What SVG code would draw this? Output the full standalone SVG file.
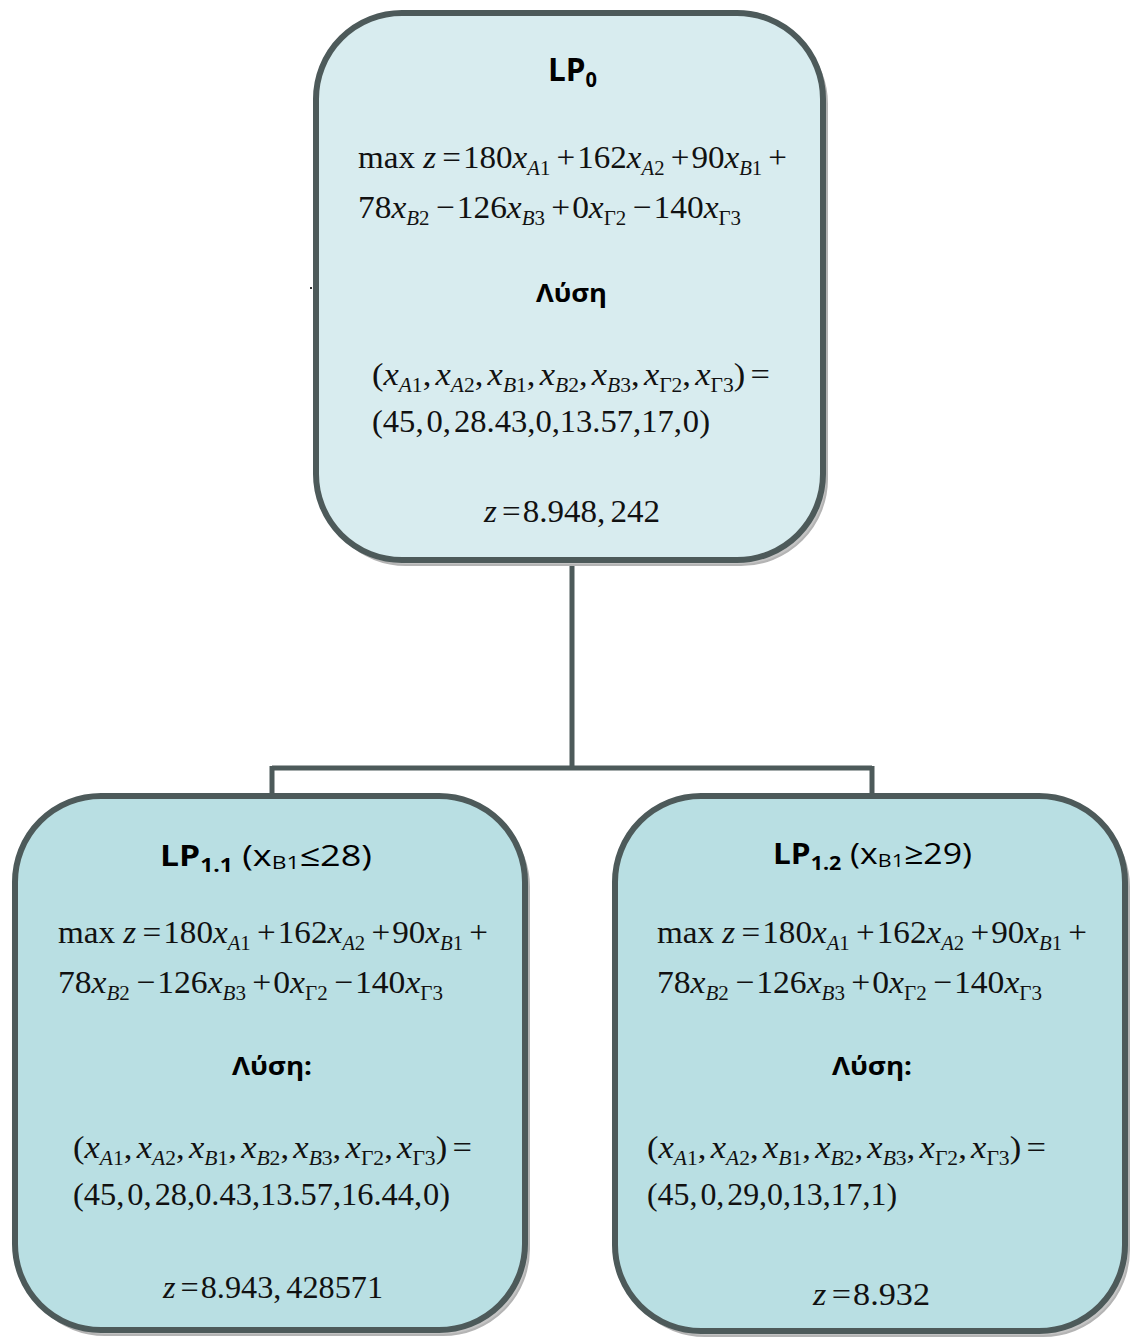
<svg xmlns="http://www.w3.org/2000/svg" width="1131" height="1342" viewBox="0 0 1131 1342">
  <style>
    .box { stroke: #4d5a5a; stroke-width: 6; }
    .shadow { fill: #c4c4c4; stroke: #b4b4b4; stroke-width: 2; }
    .top { fill: #d8ecef; }
    .bot { fill: #b9dfe3; }
    .conn { fill: none; stroke: #4d5a5a; stroke-width: 5; }
    .title { font-family: "Open Sans", "Noto Sans", sans-serif; font-weight: bold; fill: #000; }
    .plain { font-weight: normal; }
    .m { font-family: "Liberation Serif", "Times New Roman", serif; font-size: 32px; fill: #111; }
    .i { font-style: italic; }
    .s { font-size: 20px; }
  </style>

  <!-- connectors -->
  <g id="connectors">
    <path class="conn" d="M572,563 V768 M272,768 H872 M272,766 V797 M872,766 V797"/>
  </g>

  <!-- root problem -->
  <g id="lp0">
    <rect class="shadow" x="320" y="18" width="507" height="547" rx="86"/>
    <rect class="box top" x="316" y="13" width="507" height="547" rx="86"/>
    <text class="title" x="548" y="81" font-size="33" textLength="49" lengthAdjust="spacingAndGlyphs">LP<tspan font-size="21" dy="6">0</tspan></text>
    <text class="m" x="358" y="168" textLength="429" lengthAdjust="spacingAndGlyphs">max <tspan class="i">z</tspan><tspan dx="6">=</tspan><tspan dx="2">180</tspan><tspan class="i">x</tspan><tspan class="s" dy="7"><tspan class="i">A</tspan>1</tspan><tspan dy="-7" dx="6">+</tspan><tspan dx="2">162</tspan><tspan class="i">x</tspan><tspan class="s" dy="7"><tspan class="i">A</tspan>2</tspan><tspan dy="-7" dx="6">+</tspan><tspan dx="2">90</tspan><tspan class="i">x</tspan><tspan class="s" dy="7"><tspan class="i">B</tspan>1</tspan><tspan dy="-7" dx="6">+</tspan></text>
    <text class="m" x="358" y="218" textLength="383" lengthAdjust="spacingAndGlyphs">78<tspan class="i">x</tspan><tspan class="s" dy="7"><tspan class="i">B</tspan>2</tspan><tspan dy="-7" dx="6">−</tspan><tspan dx="2">126</tspan><tspan class="i">x</tspan><tspan class="s" dy="7"><tspan class="i">B</tspan>3</tspan><tspan dy="-7" dx="6">+</tspan><tspan dx="2">0</tspan><tspan class="i">x</tspan><tspan class="s" dy="7">Γ2</tspan><tspan dy="-7" dx="6">−</tspan><tspan dx="2">140</tspan><tspan class="i">x</tspan><tspan class="s" dy="7">Γ3</tspan></text>
    <text class="title" x="536" y="302" font-size="25" textLength="71" lengthAdjust="spacingAndGlyphs">Λύση</text>
    <text class="m" x="372" y="385" textLength="398" lengthAdjust="spacingAndGlyphs">(<tspan class="i">x</tspan><tspan class="s" dy="7"><tspan class="i">A</tspan>1</tspan><tspan dy="-7">,</tspan><tspan class="i" dx="4">x</tspan><tspan class="s" dy="7"><tspan class="i">A</tspan>2</tspan><tspan dy="-7">,</tspan><tspan class="i" dx="4">x</tspan><tspan class="s" dy="7"><tspan class="i">B</tspan>1</tspan><tspan dy="-7">,</tspan><tspan class="i" dx="4">x</tspan><tspan class="s" dy="7"><tspan class="i">B</tspan>2</tspan><tspan dy="-7">,</tspan><tspan class="i" dx="4">x</tspan><tspan class="s" dy="7"><tspan class="i">B</tspan>3</tspan><tspan dy="-7">,</tspan><tspan class="i" dx="4">x</tspan><tspan class="s" dy="7">Γ2</tspan><tspan dy="-7">,</tspan><tspan class="i" dx="4">x</tspan><tspan class="s" dy="7">Γ3</tspan><tspan dy="-7">)</tspan><tspan dx="5">=</tspan></text>
    <text class="m" x="372" y="432" textLength="338" lengthAdjust="spacingAndGlyphs">(45,<tspan dx="3">0,</tspan><tspan dx="3">28.43,</tspan>0,13.57,17,<tspan dx="1">0)</tspan></text>
    <text class="m" x="484" y="522" textLength="176" lengthAdjust="spacingAndGlyphs"><tspan class="i">z</tspan><tspan dx="5">=</tspan><tspan dx="2">8.948,</tspan><tspan dx="5">242</tspan></text>
  </g>
  <!-- stray mark beside the root box -->
  <rect x="310" y="287" width="2" height="2" fill="#333"/>

  <!-- left branch -->
  <g id="lp11">
    <rect class="shadow" x="19" y="801" width="510" height="534" rx="86"/>
    <rect class="box bot" x="15" y="796" width="510" height="534" rx="86"/>
    <text class="title" x="160" y="866" font-size="28" textLength="212" lengthAdjust="spacingAndGlyphs">LP<tspan font-size="19" dy="6">1.1</tspan><tspan class="plain" font-size="30" dy="-6"> (x</tspan><tspan class="plain" font-size="19" dy="3">B1</tspan><tspan class="plain" font-size="30" dy="-3">≤28)</tspan></text>
    <text class="m" x="58" y="943" textLength="430" lengthAdjust="spacingAndGlyphs">max <tspan class="i">z</tspan><tspan dx="6">=</tspan><tspan dx="2">180</tspan><tspan class="i">x</tspan><tspan class="s" dy="7"><tspan class="i">A</tspan>1</tspan><tspan dy="-7" dx="6">+</tspan><tspan dx="2">162</tspan><tspan class="i">x</tspan><tspan class="s" dy="7"><tspan class="i">A</tspan>2</tspan><tspan dy="-7" dx="6">+</tspan><tspan dx="2">90</tspan><tspan class="i">x</tspan><tspan class="s" dy="7"><tspan class="i">B</tspan>1</tspan><tspan dy="-7" dx="6">+</tspan></text>
    <text class="m" x="58" y="993" textLength="385" lengthAdjust="spacingAndGlyphs">78<tspan class="i">x</tspan><tspan class="s" dy="7"><tspan class="i">B</tspan>2</tspan><tspan dy="-7" dx="6">−</tspan><tspan dx="2">126</tspan><tspan class="i">x</tspan><tspan class="s" dy="7"><tspan class="i">B</tspan>3</tspan><tspan dy="-7" dx="6">+</tspan><tspan dx="2">0</tspan><tspan class="i">x</tspan><tspan class="s" dy="7">Γ2</tspan><tspan dy="-7" dx="6">−</tspan><tspan dx="2">140</tspan><tspan class="i">x</tspan><tspan class="s" dy="7">Γ3</tspan></text>
    <text class="title" x="232" y="1075" font-size="25" textLength="80" lengthAdjust="spacingAndGlyphs">Λύση:</text>
    <text class="m" x="73" y="1158" textLength="399" lengthAdjust="spacingAndGlyphs">(<tspan class="i">x</tspan><tspan class="s" dy="7"><tspan class="i">A</tspan>1</tspan><tspan dy="-7">,</tspan><tspan class="i" dx="4">x</tspan><tspan class="s" dy="7"><tspan class="i">A</tspan>2</tspan><tspan dy="-7">,</tspan><tspan class="i" dx="4">x</tspan><tspan class="s" dy="7"><tspan class="i">B</tspan>1</tspan><tspan dy="-7">,</tspan><tspan class="i" dx="4">x</tspan><tspan class="s" dy="7"><tspan class="i">B</tspan>2</tspan><tspan dy="-7">,</tspan><tspan class="i" dx="4">x</tspan><tspan class="s" dy="7"><tspan class="i">B</tspan>3</tspan><tspan dy="-7">,</tspan><tspan class="i" dx="4">x</tspan><tspan class="s" dy="7">Γ2</tspan><tspan dy="-7">,</tspan><tspan class="i" dx="4">x</tspan><tspan class="s" dy="7">Γ3</tspan><tspan dy="-7">)</tspan><tspan dx="5">=</tspan></text>
    <text class="m" x="73" y="1205" textLength="377" lengthAdjust="spacingAndGlyphs">(45,<tspan dx="3">0,</tspan><tspan dx="3">28,</tspan>0.43,13.57,16.44,<tspan dx="1">0)</tspan></text>
    <text class="m" x="163" y="1298" textLength="220" lengthAdjust="spacingAndGlyphs"><tspan class="i">z</tspan><tspan dx="5">=</tspan><tspan dx="2">8.943,</tspan><tspan dx="5">428571</tspan></text>
  </g>

  <!-- right branch -->
  <g id="lp12">
    <rect class="shadow" x="619" y="801" width="510" height="535" rx="86"/>
    <rect class="box bot" x="615" y="796" width="510" height="535" rx="86"/>
    <text class="title" x="773" y="864" font-size="28" textLength="199" lengthAdjust="spacingAndGlyphs">LP<tspan font-size="19" dy="6">1.2</tspan><tspan class="plain" font-size="30" dy="-6"> (x</tspan><tspan class="plain" font-size="19" dy="3">B1</tspan><tspan class="plain" font-size="30" dy="-3">≥29)</tspan></text>
    <text class="m" x="657" y="943" textLength="430" lengthAdjust="spacingAndGlyphs">max <tspan class="i">z</tspan><tspan dx="6">=</tspan><tspan dx="2">180</tspan><tspan class="i">x</tspan><tspan class="s" dy="7"><tspan class="i">A</tspan>1</tspan><tspan dy="-7" dx="6">+</tspan><tspan dx="2">162</tspan><tspan class="i">x</tspan><tspan class="s" dy="7"><tspan class="i">A</tspan>2</tspan><tspan dy="-7" dx="6">+</tspan><tspan dx="2">90</tspan><tspan class="i">x</tspan><tspan class="s" dy="7"><tspan class="i">B</tspan>1</tspan><tspan dy="-7" dx="6">+</tspan></text>
    <text class="m" x="657" y="993" textLength="385" lengthAdjust="spacingAndGlyphs">78<tspan class="i">x</tspan><tspan class="s" dy="7"><tspan class="i">B</tspan>2</tspan><tspan dy="-7" dx="6">−</tspan><tspan dx="2">126</tspan><tspan class="i">x</tspan><tspan class="s" dy="7"><tspan class="i">B</tspan>3</tspan><tspan dy="-7" dx="6">+</tspan><tspan dx="2">0</tspan><tspan class="i">x</tspan><tspan class="s" dy="7">Γ2</tspan><tspan dy="-7" dx="6">−</tspan><tspan dx="2">140</tspan><tspan class="i">x</tspan><tspan class="s" dy="7">Γ3</tspan></text>
    <text class="title" x="832" y="1075" font-size="25" textLength="80" lengthAdjust="spacingAndGlyphs">Λύση:</text>
    <text class="m" x="647" y="1158" textLength="399" lengthAdjust="spacingAndGlyphs">(<tspan class="i">x</tspan><tspan class="s" dy="7"><tspan class="i">A</tspan>1</tspan><tspan dy="-7">,</tspan><tspan class="i" dx="4">x</tspan><tspan class="s" dy="7"><tspan class="i">A</tspan>2</tspan><tspan dy="-7">,</tspan><tspan class="i" dx="4">x</tspan><tspan class="s" dy="7"><tspan class="i">B</tspan>1</tspan><tspan dy="-7">,</tspan><tspan class="i" dx="4">x</tspan><tspan class="s" dy="7"><tspan class="i">B</tspan>2</tspan><tspan dy="-7">,</tspan><tspan class="i" dx="4">x</tspan><tspan class="s" dy="7"><tspan class="i">B</tspan>3</tspan><tspan dy="-7">,</tspan><tspan class="i" dx="4">x</tspan><tspan class="s" dy="7">Γ2</tspan><tspan dy="-7">,</tspan><tspan class="i" dx="4">x</tspan><tspan class="s" dy="7">Γ3</tspan><tspan dy="-7">)</tspan><tspan dx="5">=</tspan></text>
    <text class="m" x="647" y="1205" textLength="250" lengthAdjust="spacingAndGlyphs">(45,<tspan dx="3">0,</tspan><tspan dx="3">29,</tspan>0,13,17,1)</text>
    <text class="m" x="813" y="1305" textLength="117" lengthAdjust="spacingAndGlyphs"><tspan class="i">z</tspan><tspan dx="5">=</tspan><tspan dx="2">8.932</tspan></text>
  </g>
</svg>
